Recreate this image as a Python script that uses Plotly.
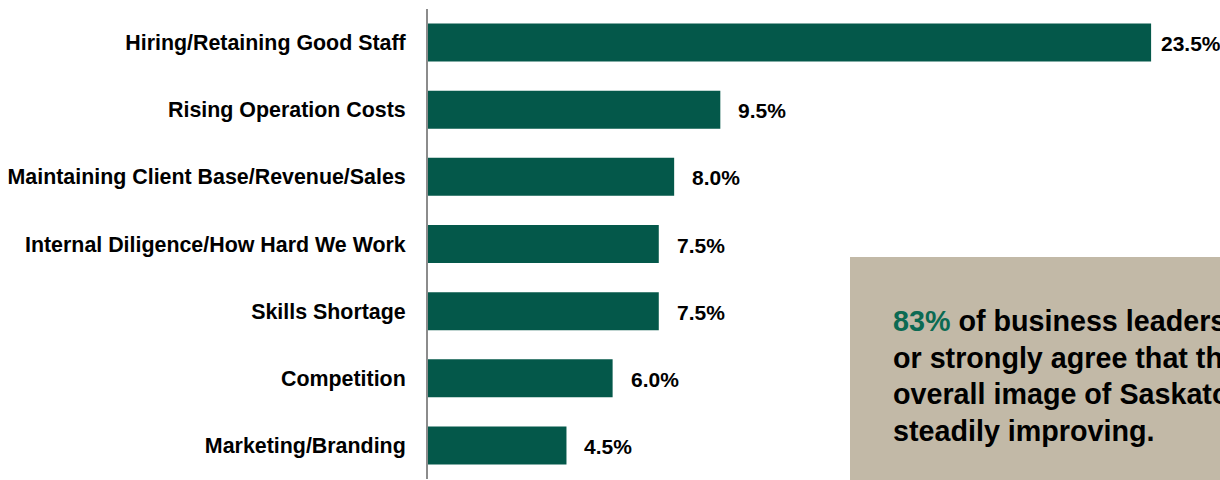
import plotly.graph_objects as go

categories = [
    "Hiring/Retaining Good Staff",
    "Rising Operation Costs",
    "Maintaining Client Base/Revenue/Sales",
    "Internal Diligence/How Hard We Work",
    "Skills Shortage",
    "Competition",
    "Marketing/Branding",
]
values = [23.5, 9.5, 8.0, 7.5, 7.5, 6.0, 4.5]
value_labels = ["23.5%", "9.5%", "8.0%", "7.5%", "7.5%", "6.0%", "4.5%"]

callout_highlight = "83%"
callout_lines = [
    " of business leaders agree",
    "or strongly agree that the",
    "overall image of Saskatoon is",
    "steadily improving.",
]

BAR = "#04584A"
FONT = "Liberation Sans, Arial, sans-serif"

fig = go.Figure()
fig.add_trace(go.Bar(
    x=values, y=categories, orientation="h",
    marker=dict(color=BAR, line=dict(width=0)),
    width=0.566, hoverinfo="skip",
))

annotations = []
for i, (c, v, t) in enumerate(zip(categories, values, value_labels)):
    annotations.append(dict(
        x=v, y=c, xref="x", yref="y", text=t, showarrow=False,
        xanchor="left", yanchor="middle", xshift=8 if i == 0 else 16, yshift=-1,
        font=dict(family=FONT, size=21, color="#000000", weight="bold"),
    ))

# callout box
W, H = 1220, 480
L, R, T, B = 428, 0, 9, 1
pw, ph = W - L - R, H - T - B
def px(x):
    return (x - L) / pw
def py(y):
    return 1 - (y - T) / ph

shapes = [dict(type="rect", xref="paper", yref="paper",
               x0=px(850), x1=px(1300), y0=py(520), y1=py(257),
               fillcolor="#C2B9A7", line=dict(width=0), layer="above")]

baselines = [332, 368.7, 405.4, 442]
for k, (line, base) in enumerate(zip(callout_lines, baselines)):
    txt = line
    if k == 0:
        txt = f"<span style='color:#0B6A53'>{callout_highlight}</span>{line}"
    annotations.append(dict(
        x=px(891), y=py(base + 7), xref="paper", yref="paper", text=txt,
        showarrow=False, xanchor="left", yanchor="bottom",
        font=dict(family=FONT, size=28.7, color="#000000", weight="bold"),
    ))

fig.update_layout(
    width=W, height=H,
    margin=dict(l=L, r=R, t=T, b=B),
    paper_bgcolor="white", plot_bgcolor="white",
    showlegend=False,
    xaxis=dict(range=[0, pw / 30.77], showgrid=False, zeroline=False,
               showticklabels=False, showline=False, fixedrange=True),
    yaxis=dict(categoryorder="array", categoryarray=categories,
               range=[6.5, -0.5], showgrid=False, zeroline=False,
               showline=True, linecolor="#8C8C8C", linewidth=2,
               ticks="", ticklabelstandoff=16, fixedrange=True,
               tickfont=dict(family=FONT, size=21.4, color="#000000", weight="bold")),
    annotations=annotations,
    shapes=shapes,
    font=dict(family=FONT),
)

fig.write_html(
    "out.html",
    config={"displayModeBar": False},
    post_script="document.body.style.margin='0';document.body.style.overflow='hidden';",
)
